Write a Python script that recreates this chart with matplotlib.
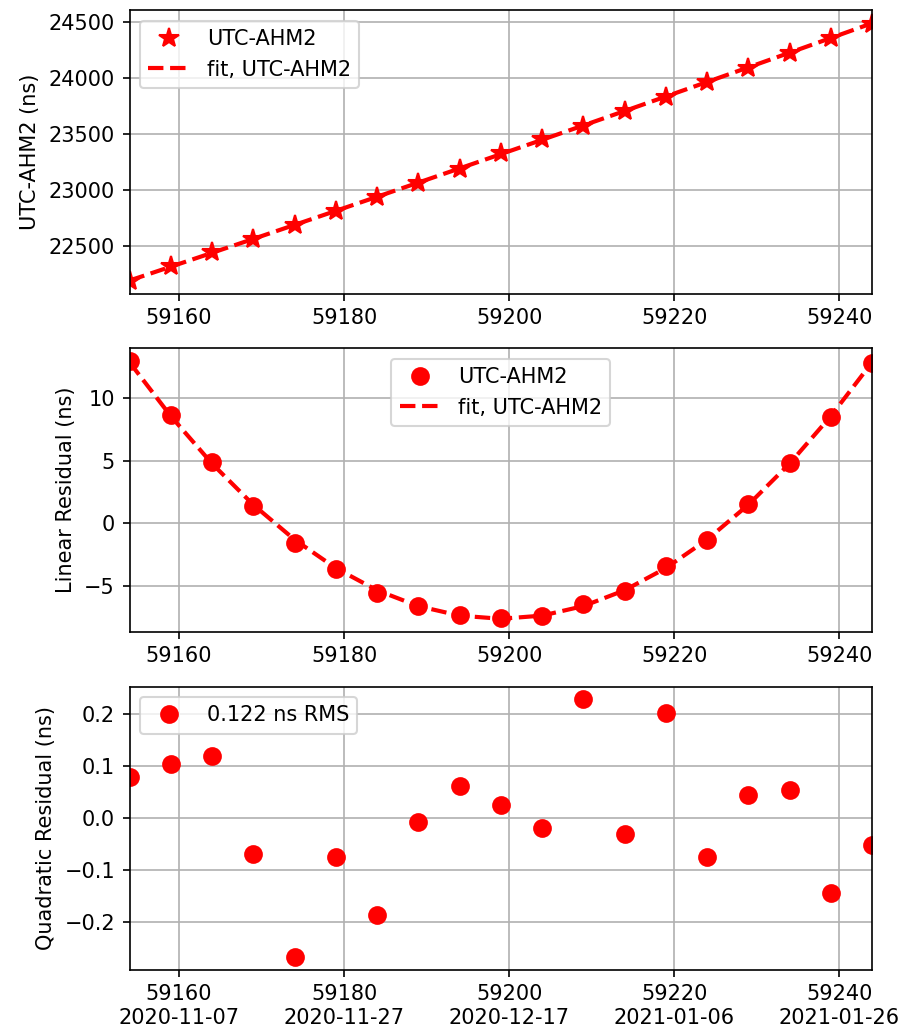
import datetime
import matplotlib
matplotlib.use('Agg')
import matplotlib.pyplot as plt
import numpy as np

# MJD of each measurement
mjd = np.arange(59154, 59245, 5)

# UTC-AHM2 (ns)
utc_ahm2 = [22195, 22322, 22447, 22566, 22690, 22818, 22936, 23064, 23194,
            23328, 23456, 23574, 23708, 23835, 23966, 24093, 24227, 24360,
            24485]

# residual after linear fit (ns)
lin_resid = [12.97, 8.69, 4.89, 1.42, -1.55, -3.66, -5.53, -6.60, -7.33,
             -7.57, -7.41, -6.42, -5.37, -3.40, -1.31, 1.55, 4.81, 8.48,
             12.83]

# residual after quadratic fit (ns)
quad_resid = [0.078, 0.104, 0.120, -0.069, -0.267, -0.075, -0.187, -0.008,
              0.062, 0.026, -0.019, 0.228, -0.031, 0.202, -0.074, 0.044,
              0.053, -0.145, -0.051]

label = 'UTC-AHM2'
rms_label = '0.122 ns RMS'
tick_mjd = [59160, 59180, 59200, 59220, 59240]

# quadratic fits through the read values
fit_top = np.polyval(np.polyfit(mjd, utc_ahm2, 2), mjd)
fit_mid = np.polyval(np.polyfit(mjd, lin_resid, 2), mjd)

fig, (ax1, ax2, ax3) = plt.subplots(3, 1, figsize=(6, 6.9), dpi=150)
fig.subplots_adjust(left=0.144, right=0.969, top=0.990, bottom=0.063,
                    hspace=0.194)

ax1.plot(mjd, utc_ahm2, '*', color='red', markersize=10, label=label)
ax1.plot(mjd, fit_top, '--', color='red', linewidth=2, label='fit, ' + label)
ax1.set_ylabel('UTC-AHM2 (ns)')
ax1.legend(loc='upper left')

ax2.plot(mjd, lin_resid, 'o', color='red', markersize=8, label=label)
ax2.plot(mjd, fit_mid, '--', color='red', linewidth=2, label='fit, ' + label)
ax2.set_ylabel('Linear Residual (ns)')
ax2.legend(loc='upper center')

ax3.plot(mjd, quad_resid, 'o', color='red', markersize=8, label=rms_label)
ax3.set_ylabel('Quadratic Residual (ns)')
ax3.legend(loc='upper left')

# MJD 0 = 1858-11-17
mjd0 = datetime.date(1858, 11, 17)
bottom_labels = ['%d\n%s' % (m, (mjd0 + datetime.timedelta(days=m)).isoformat())
                 for m in tick_mjd]

for ax in (ax1, ax2, ax3):
    ax.set_xlim(mjd[0], mjd[-1])
    ax.set_xticks(tick_mjd)
    ax.grid(True)
ax3.set_xticklabels(bottom_labels)

plt.savefig('out.png', dpi=150)
